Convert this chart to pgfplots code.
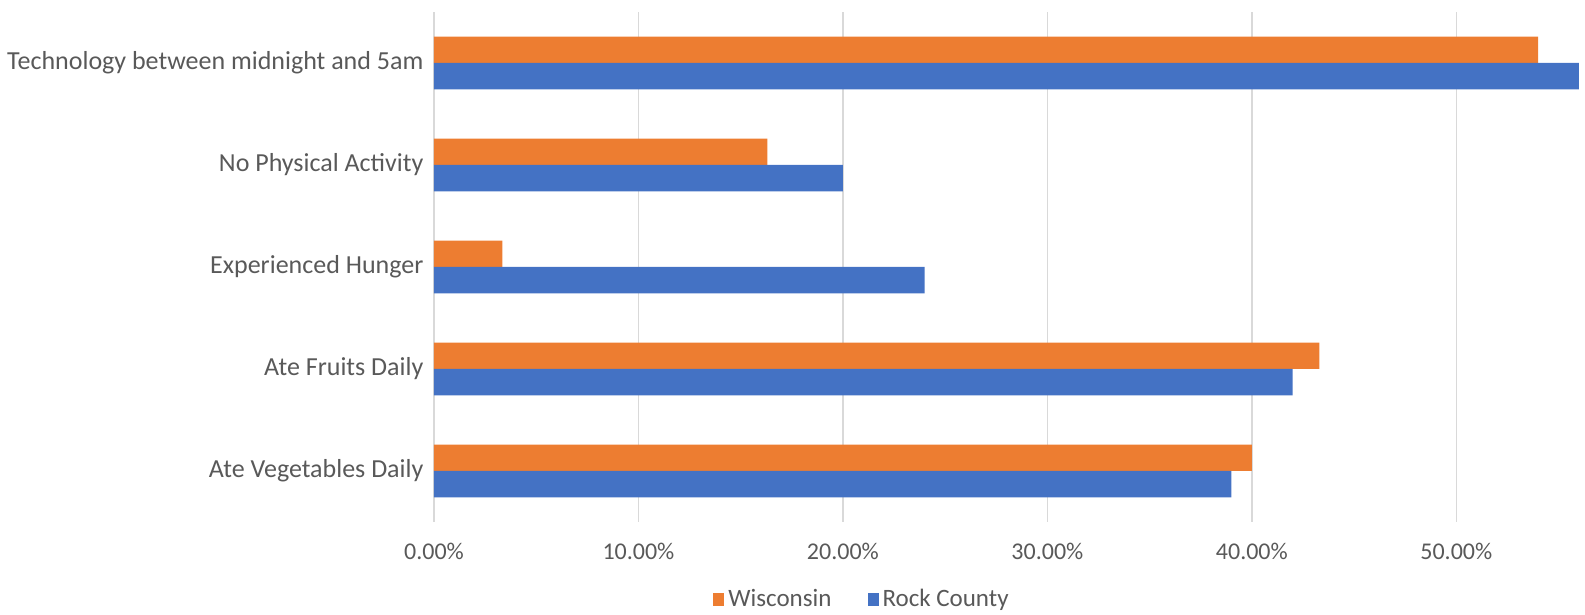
\documentclass[border=0pt]{standalone}
\usepackage{pgfplots}
\pgfplotsset{compat=1.18}
\usepackage{fontspec}
\setmainfont{Carlito}
\definecolor{wiorange}{HTML}{ED7D31}
\definecolor{rcblue}{HTML}{4472C4}
\definecolor{txtgray}{HTML}{595959}
\definecolor{gridgray}{HTML}{D9D9D9}
\begin{document}
\begin{tikzpicture}
\begin{axis}[
  at={(0pt,0pt)}, anchor=south west,
  scale only axis,
  width=572.5pt, height=255pt,
  xbar, bar width=13.2pt,
  xmin=0, xmax=56,
  ymin=-0.5, ymax=4.5,
  xtick={0,10,20,30,40,50},
  xticklabels={0.00\%,10.00\%,20.00\%,30.00\%,40.00\%,50.00\%},
  ytick={0,1,2,3,4},
  yticklabels={Ate Vegetables Daily, Ate Fruits Daily, Experienced Hunger, No Physical Activity, Technology between midnight and 5am},
  xmajorgrids, grid style={gridgray, line width=0.8pt},
  axis line style={draw=none},
  tick style={draw=none},
  xticklabel style={font=\fontsize{12}{14}\selectfont, text=txtgray, yshift=-7pt},
  yticklabel style={font=\fontsize{13}{15}\selectfont, text=txtgray, xshift=2.5pt},
  legend style={at={(0.3747,-0.152)}, anchor=center, draw=none,
    legend columns=2, font=\fontsize{12.5}{15}\selectfont, text=txtgray,
    inner sep=1pt,
    /tikz/every even column/.append style={column sep=16pt}},
  legend image code/.code={\fill[#1] (1pt,-3pt) rectangle (6.5pt,3.5pt);},
]
\addplot[fill=wiorange, draw=none, bar shift=6.6pt] coordinates {(40.0,0) (43.3,1) (3.35,2) (16.3,3) (54.0,4)};
\addlegendentry{Wisconsin}
\addplot[fill=rcblue, draw=none, bar shift=-6.6pt] coordinates {(39.0,0) (42.0,1) (24.0,2) (20.0,3) (56.0,4)};
\addlegendentry{Rock County}
\end{axis}
\pgfresetboundingbox
\path (-217pt,-46.5pt) rectangle (575.5pt,261pt);
\end{tikzpicture}
\end{document}
